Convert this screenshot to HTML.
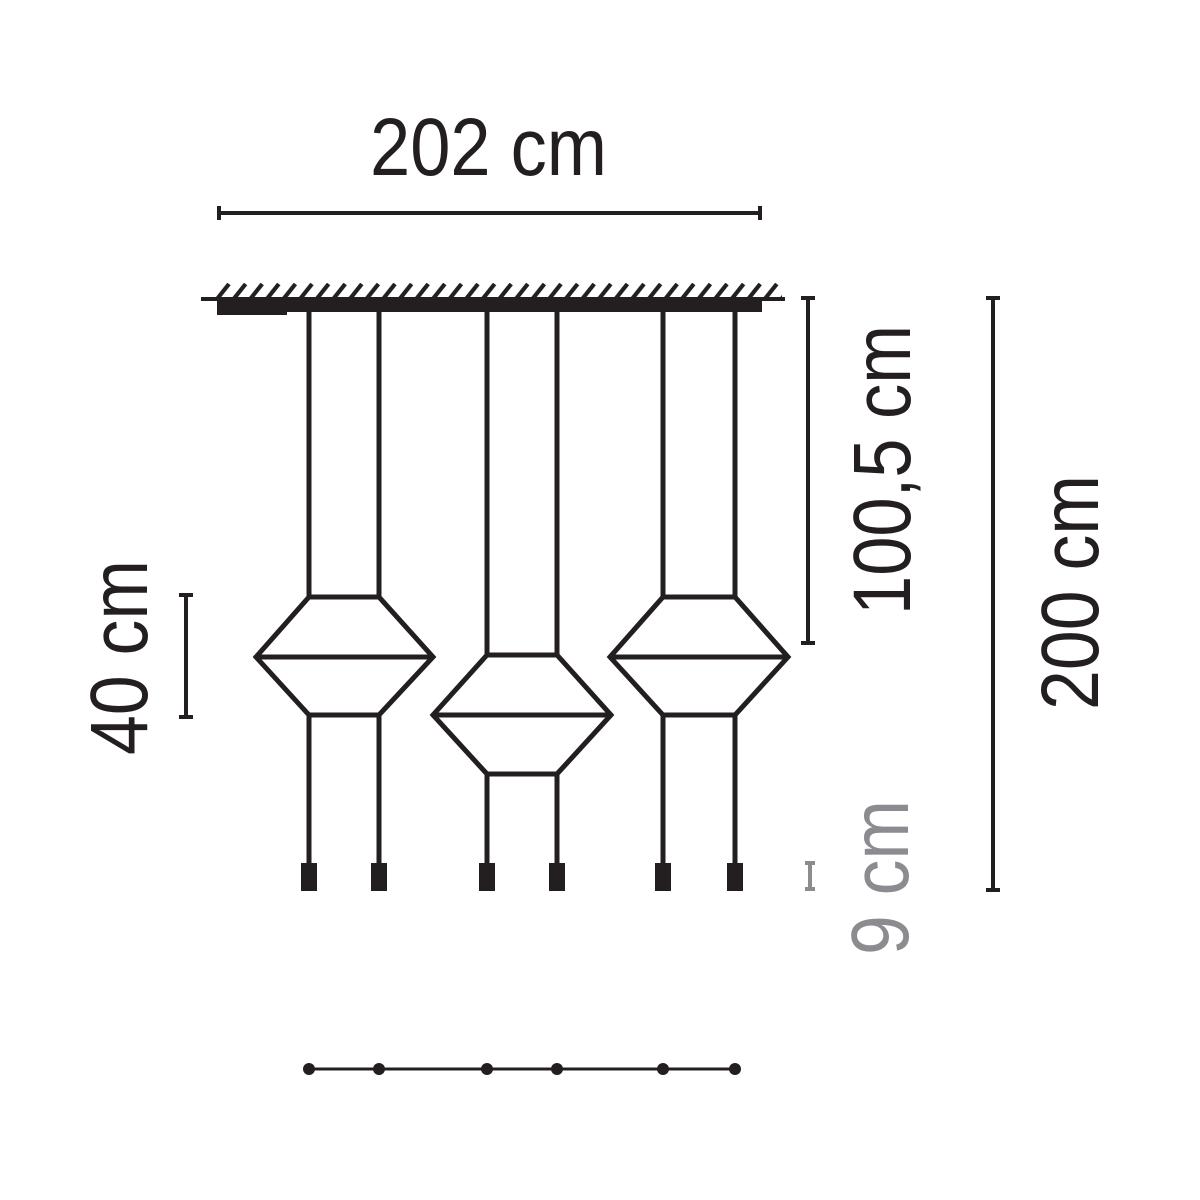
<!DOCTYPE html>
<html><head><meta charset="utf-8"><style>html,body{margin:0;padding:0;background:#fff}svg{display:block}</style></head>
<body>
<svg width="1200" height="1200" viewBox="0 0 1200 1200" xmlns="http://www.w3.org/2000/svg">
<defs>
<pattern id="h" x="215" y="283" width="16.6" height="16" patternUnits="userSpaceOnUse">
<line x1="2" y1="16" x2="14" y2="1" stroke="#231f20" stroke-width="4.2"/>
</pattern>
</defs>
<g fill="#231f20" font-family="'Liberation Sans', sans-serif" font-size="82">
<text x="370" y="175" textLength="237" lengthAdjust="spacingAndGlyphs">202 cm</text>
<text transform="translate(910,615) rotate(-90)" textLength="290" lengthAdjust="spacingAndGlyphs">100,5 cm</text>
<text transform="translate(1098,710) rotate(-90)" textLength="235" lengthAdjust="spacingAndGlyphs">200 cm</text>
<text transform="translate(147,755) rotate(-90)" textLength="195" lengthAdjust="spacingAndGlyphs">40 cm</text>
<text transform="translate(908,955) rotate(-90)" textLength="155" lengthAdjust="spacingAndGlyphs" fill="#8a8c90">9 cm</text>
</g>
<g stroke="#231f20" stroke-width="4" fill="none">
<line x1="219" y1="213" x2="760" y2="213"/>
<line x1="219" y1="206" x2="219" y2="220"/><line x1="760" y1="206" x2="760" y2="220"/>
<line x1="808" y1="298" x2="808" y2="643"/>
<line x1="801" y1="298" x2="815" y2="298"/><line x1="801" y1="643" x2="815" y2="643"/>
<line x1="993" y1="298" x2="993" y2="890"/>
<line x1="986" y1="298" x2="1000" y2="298"/><line x1="986" y1="890" x2="1000" y2="890"/>
<line x1="186" y1="595" x2="186" y2="717"/>
<line x1="179" y1="595" x2="193" y2="595"/><line x1="179" y1="717" x2="193" y2="717"/>
<g stroke="#8a8c90"><line x1="810" y1="863" x2="810" y2="889"/><line x1="805" y1="863" x2="815" y2="863"/><line x1="805" y1="889" x2="815" y2="889"/></g>
<line x1="201" y1="299" x2="785" y2="299" stroke-width="4"/>
</g>
<rect x="215" y="283" width="567" height="16" fill="url(#h)"/>
<rect x="217" y="300" width="545" height="12" fill="#231f20"/>
<rect x="217" y="300" width="70" height="15" fill="#231f20"/>
<g stroke="#231f20" stroke-width="5" fill="none" stroke-linejoin="miter">
<polyline points="309,312 309,597 379,597 379,312"/>
<polygon points="309,597 379,597 433,657 379,715 309,715 256,657"/>
<line x1="256" y1="657" x2="433" y2="657"/>
<line x1="309" y1="715" x2="309" y2="865"/><line x1="379" y1="715" x2="379" y2="865"/>
<polyline points="487,312 487,655 557,655 557,312"/>
<polygon points="487,655 557,655 611,715 557,774 487,774 433,715"/>
<line x1="433" y1="715" x2="611" y2="715"/>
<line x1="487" y1="774" x2="487" y2="865"/><line x1="557" y1="774" x2="557" y2="865"/>
<polyline points="663,312 663,597 735,597 735,312"/>
<polygon points="663,597 735,597 788,657 735,715 663,715 610,657"/>
<line x1="610" y1="657" x2="788" y2="657"/>
<line x1="663" y1="715" x2="663" y2="865"/><line x1="735" y1="715" x2="735" y2="865"/>
<line x1="309" y1="1069" x2="735" y2="1069" stroke-width="3"/>
</g>
<g fill="#231f20">
<rect x="301" y="863" width="16" height="28"/><rect x="371" y="863" width="16" height="28"/>
<rect x="479" y="863" width="16" height="28"/><rect x="549" y="863" width="16" height="28"/>
<rect x="655" y="863" width="16" height="28"/><rect x="727" y="863" width="16" height="28"/>
<circle cx="309" cy="1069" r="6"/><circle cx="379" cy="1069" r="6"/><circle cx="487" cy="1069" r="6"/>
<circle cx="557" cy="1069" r="6"/><circle cx="663" cy="1069" r="6"/><circle cx="735" cy="1069" r="6"/>
</g>
</svg>
</body></html>
